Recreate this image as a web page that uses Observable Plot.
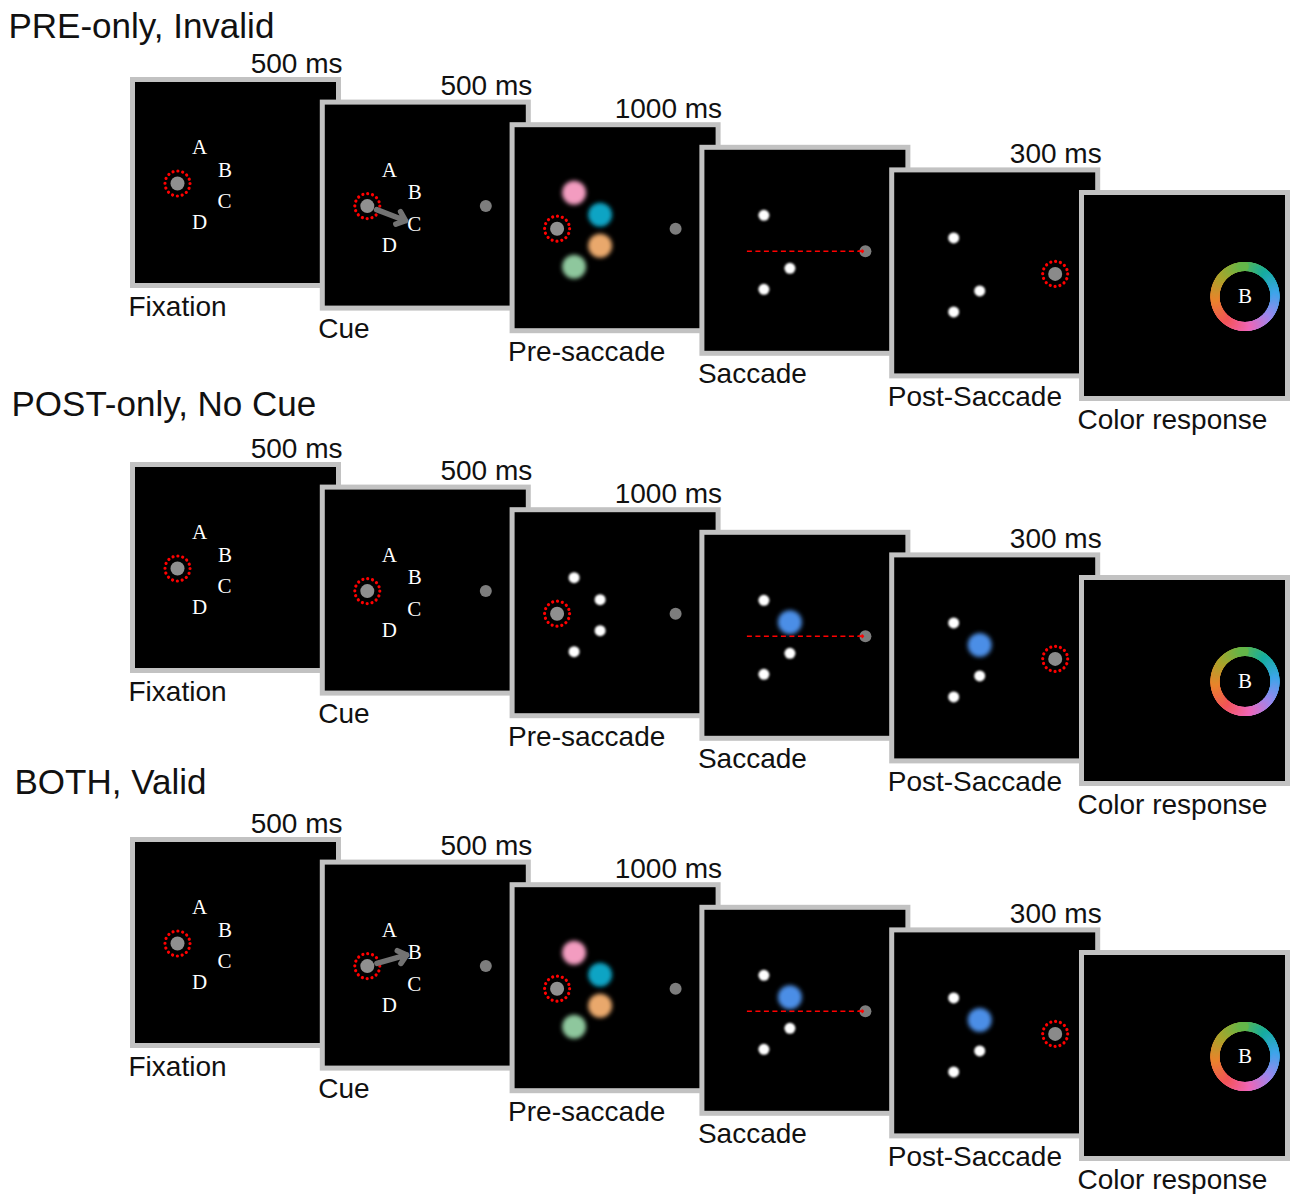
<!DOCTYPE html>
<html><head><meta charset="utf-8">
<script src="https://cdn.jsdelivr.net/npm/d3@7"></script>
<script src="https://cdn.jsdelivr.net/npm/@observablehq/plot@0.6"></script>
<style>html,body{margin:0;padding:0;background:#fff;}</style>
</head><body><div id="chart"></div>
<script>
// ---------- content ----------
const conditions = ["PRE-only, Invalid", "POST-only, No Cue", "BOTH, Valid"];
const stages = ["Fixation", "Cue", "Pre-saccade", "Saccade", "Post-Saccade", "Color response"];
const durations = ["500 ms", "500 ms", "1000 ms", "", "300 ms", ""];
const items = ["A", "B", "C", "D"];
const cueTargets = ["C", null, "B"];          // arrow cue per condition
const preColored = [true, false, true];       // coloured items before the saccade
const postColored = [false, true, true];      // probed item coloured after the saccade
const preColors = ["#f39cc0", "#0aa4c4", "#e9a86c", "#8ec79d"]; // A, B, C, D
const postColor = "#4b8ee6";
const probe = "B";
const wheelAngles = [0, 45, 90, 135, 180, 225, 270, 315, 360];
const wheelColors = ["#62b74a", "#16ad9f", "#3ea5ea", "#9a88ee", "#f066b6", "#f25458", "#e9842c", "#a9a52c", "#62b74a"];

// ---------- layout ----------
const W = 1290, H = 1194;
const rowTop = [77, 462, 837];
const titleX = [8, 11, 14], titleY = [37, 415, 793];
const x0 = 130, stepX = 189.8, stepY = 22.6, size = 211, bw = 5;
const fixLocal = [47, 106], amp = 118.5;
const letterOff = {A: [22, -36], B: [47.5, -13.5], C: [47, 18], D: [22, 39]};
const itemOff = {A: [17, -36], B: [43, -14], C: [43, 17], D: [17, 38]};

const org = (r, k) => [x0 + stepX * k, rowTop[r] + stepY * k];
const fix = (r, k) => { const [x, y] = org(r, k); return [x + fixLocal[0], y + fixLocal[1]]; };
const tgt = (r, k) => { const [x, y] = fix(r, k); return [x + amp, y]; };

const frames = [], durLabels = [], stageLabels = [], titles = [];
const letters = [], fixDots = [], rings = [], tgtDots = [], tgtDotsBig = [], whites = [], blobs = [];
const cueArrows = [], sacLines = [], sacHeads = [], wheel = [], probeLetters = [];
const wheelColor = d3.scaleLinear().domain(wheelAngles).range(wheelColors).interpolate(d3.interpolateRgb);

conditions.forEach((c, r) => {
  titles.push({x: titleX[r], y: titleY[r], text: c});
  stages.forEach((s, k) => {
    const [ox, oy] = org(r, k);
    frames.push({x1: ox + bw / 2, x2: ox + size - bw / 2, y1: oy + bw / 2, y2: oy + size - bw / 2});
    if (durations[k]) durLabels.push({x: ox + size + 1, y: oy - 5, text: durations[k]});
    stageLabels.push({x: ox - 2, y: oy + size + 27, text: s});
    const [fx, fy] = fix(r, k), [tx, ty] = tgt(r, k);
    if (k <= 2) { fixDots.push({x: fx, y: fy}); rings.push({x: fx, y: fy}); }
    if (k >= 1 && k <= 3) tgtDots.push({x: tx, y: ty});
    if (k === 4) { tgtDotsBig.push({x: tx, y: ty}); rings.push({x: tx, y: ty}); }
    if (k <= 1) items.forEach(l => letters.push({x: fx + letterOff[l][0], y: fy + letterOff[l][1], text: l}));
    if (k === 1 && cueTargets[r]) {
      const [lx, ly] = letterOff[cueTargets[r]];
      const d = Math.hypot(lx, ly), ux = lx / d, uy = ly / d;
      cueArrows.push({x1: fx + ux * 10, y1: fy + uy * 10, x2: fx + ux * 41, y2: fy + uy * 41});
    }
    if (k === 2) items.forEach((l, i) => {
      const p = {x: fx + itemOff[l][0], y: fy + itemOff[l][1]};
      if (preColored[r]) blobs.push({...p, color: preColors[i]}); else whites.push(p);
    });
    if (k === 3) {
      sacLines.push({x1: fx, y1: fy, x2: tx - 3, y2: ty});
      sacHeads.push({x1: tx - 7, y1: ty, x2: tx - 2, y2: ty});
    }
    if (k === 3 || k === 4) {
      items.forEach(l => {
        const p = {x: fx + itemOff[l][0], y: fy + itemOff[l][1]};
        if (l === probe) { if (postColored[r]) blobs.push({...p, color: postColor}); }
        else whites.push(p);
      });
    }
    if (k === 5) {
      for (let a = 0; a < 360; a += 1.5) {
        const t = a * Math.PI / 180;
        wheel.push({x: tx + 30 * Math.sin(t), y: ty - 30 * Math.cos(t), color: wheelColor(a)});
      }
      probeLetters.push({x: tx, y: ty, text: probe});
    }
  });
});

const sans = "'Liberation Sans', Arial, Helvetica, sans-serif";
const serif = "'Liberation Serif', 'Times New Roman', serif";

const chart = Plot.plot({
  width: W, height: H, margin: 0,
  x: {domain: [0, W], range: [0, W], axis: null},
  y: {domain: [0, H], range: [0, H], axis: null},
  style: {background: "#fff"},
  marks: [
    Plot.rect(frames, {x1: "x1", x2: "x2", y1: "y1", y2: "y2", fill: "#000", stroke: "#c2c2c2", strokeWidth: bw}),
    Plot.text(titles, {x: "x", y: "y", text: "text", textAnchor: "start", lineAnchor: "bottom", fontSize: 35, fontFamily: sans, fill: "#111"}),
    Plot.text(durLabels, {x: "x", y: "y", text: "text", textAnchor: "end", lineAnchor: "bottom", fontSize: 28, fontFamily: sans, fill: "#111"}),
    Plot.text(stageLabels, {x: "x", y: "y", text: "text", textAnchor: "start", lineAnchor: "bottom", fontSize: 28, fontFamily: sans, fill: "#111"}),
    Plot.text(letters, {x: "x", y: "y", text: "text", fontSize: 21, fontFamily: serif, fill: "#fff"}),
    Plot.dot(blobs, {x: "x", y: "y", r: 12, fill: "color", stroke: null, ariaDescription: "blobs"}),
    Plot.dot(whites, {x: "x", y: "y", r: 5.5, fill: "#fff", stroke: null, ariaDescription: "whites"}),
    Plot.dot(tgtDots, {x: "x", y: "y", r: 6, fill: "#7d7d7d", stroke: null, ariaDescription: "grays"}),
    Plot.dot(tgtDotsBig, {x: "x", y: "y", r: 7, fill: "#8a8a8a", stroke: null, ariaDescription: "grays"}),
    Plot.dot(fixDots, {x: "x", y: "y", r: 7, fill: "#8f8f8f", stroke: null, ariaDescription: "grays"}),
    Plot.dot(rings, {x: "x", y: "y", r: 12.5, fill: "none", stroke: "#ff0000", strokeWidth: 3.2, strokeLinecap: "round", strokeDasharray: "0.01 4.9"}),
    Plot.arrow(cueArrows, {x1: "x1", y1: "y1", x2: "x2", y2: "y2", stroke: "#737373", strokeWidth: 5.5, headLength: 6, headAngle: 80}),
    Plot.link(sacLines, {x1: "x1", y1: "y1", x2: "x2", y2: "y2", stroke: "#ff0000", strokeWidth: 1.6, strokeDasharray: "5 3.5"}),
    Plot.arrow(sacHeads, {x1: "x1", y1: "y1", x2: "x2", y2: "y2", stroke: "#ff0000", strokeWidth: 1.6, headLength: 12, headAngle: 90}),
    Plot.dot(wheel, {x: "x", y: "y", r: 4.6, fill: "color", stroke: null}),
    Plot.text(probeLetters, {x: "x", y: "y", text: "text", fontSize: 21, fontFamily: serif, fill: "#fff"})
  ]
});

const svg = d3.select(chart);
const defs = svg.insert("defs", ":first-child");
const addBlur = (id, sd) => defs.append("filter").attr("id", id)
  .attr("x", "-50%").attr("y", "-50%").attr("width", "200%").attr("height", "200%")
  .append("feGaussianBlur").attr("stdDeviation", sd);
addBlur("blurBig", 2.0); addBlur("blurSmall", 1.0); addBlur("blurTiny", 0.7);
svg.selectAll('[aria-description="blobs"]').attr("filter", "url(#blurBig)");
svg.selectAll('[aria-description="whites"]').attr("filter", "url(#blurSmall)");
svg.selectAll('[aria-description="grays"]').attr("filter", "url(#blurTiny)");
document.getElementById("chart").appendChild(chart);
</script>
</body></html>
